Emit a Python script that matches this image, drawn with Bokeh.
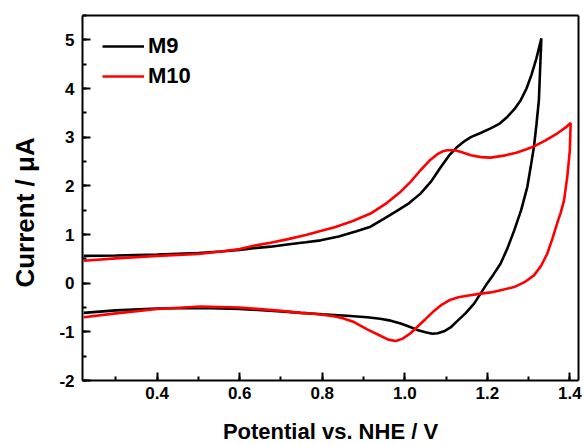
from bokeh.plotting import figure
from bokeh.models import (Range1d, SingleIntervalTicker, FixedTicker, PrintfTickFormatter,
                          Legend, LegendItem, LinearAxis)
from bokeh.embed import file_html
from bokeh.resources import INLINE

FONT = "Liberation Sans"

# ---- data (potential / V vs NHE, current / uA) ----
m9_potential = [0.222, 0.30, 0.40, 0.50, 0.554, 0.60, 0.634, 0.675, 0.72, 0.76, 0.796,
                0.84, 0.881, 0.917, 0.949, 0.98, 1.01, 1.038, 1.063, 1.087, 1.107,
                1.127, 1.145, 1.16, 1.185, 1.208, 1.23, 1.249, 1.266, 1.281, 1.295,
                1.307, 1.319, 1.331,
                1.328, 1.325, 1.319, 1.313, 1.305, 1.297, 1.282, 1.265, 1.249, 1.232,
                1.215, 1.200, 1.184, 1.168, 1.147, 1.127, 1.111, 1.095, 1.080, 1.067,
                1.050, 1.030, 1.010, 0.990, 0.966, 0.940, 0.909, 0.860, 0.800, 0.748,
                0.700, 0.600, 0.505, 0.400, 0.300, 0.222]
m9_current = [0.56, 0.57, 0.59, 0.62, 0.65, 0.68, 0.72, 0.75, 0.80, 0.84, 0.88,
              0.96, 1.06, 1.16, 1.32, 1.48, 1.64, 1.84, 2.08, 2.38, 2.62,
              2.80, 2.92, 3.00, 3.09, 3.18, 3.28, 3.42, 3.58, 3.76, 4.00,
              4.28, 4.62, 5.03,
              4.40, 3.76, 3.25, 2.80, 2.38, 1.98, 1.50, 1.08, 0.72, 0.40,
              0.18, 0.00, -0.21, -0.42, -0.62, -0.78, -0.91, -0.99, -1.03, -1.04,
              -1.01, -0.96, -0.89, -0.83, -0.77, -0.73, -0.70, -0.67, -0.64, -0.61,
              -0.58, -0.53, -0.51, -0.52, -0.56, -0.61]

m10_potential = [0.222, 0.30, 0.40, 0.50, 0.554, 0.60, 0.634, 0.675, 0.72, 0.76, 0.796,
                 0.83, 0.869, 0.894, 0.917, 0.957, 0.99, 1.014, 1.038, 1.06, 1.079,
                 1.092, 1.103, 1.12, 1.135, 1.16, 1.185, 1.208, 1.24, 1.27, 1.295,
                 1.313, 1.34, 1.37, 1.39, 1.402,
                 1.401, 1.400, 1.394, 1.386, 1.378, 1.370, 1.358, 1.345, 1.330, 1.313,
                 1.290, 1.265, 1.235, 1.208, 1.180, 1.151, 1.130, 1.111, 1.090, 1.071,
                 1.050, 1.030, 1.014, 0.995, 0.978, 0.960, 0.941, 0.909, 0.877, 0.850,
                 0.828, 0.780, 0.748, 0.700, 0.600, 0.505, 0.400, 0.300, 0.222]
m10_current = [0.46, 0.51, 0.56, 0.60, 0.65, 0.70, 0.77, 0.83, 0.91, 0.99, 1.07,
               1.15, 1.26, 1.35, 1.43, 1.65, 1.88, 2.08, 2.32, 2.52, 2.65,
               2.71, 2.73, 2.73, 2.70, 2.63, 2.59, 2.58, 2.62, 2.68, 2.75,
               2.81, 2.93, 3.08, 3.20, 3.29,
               3.00, 2.73, 2.20, 1.70, 1.45, 1.25, 0.92, 0.60, 0.35, 0.16,
               0.02, -0.08, -0.14, -0.19, -0.22, -0.26, -0.29, -0.34, -0.44, -0.57,
               -0.74, -0.90, -1.03, -1.14, -1.19, -1.16, -1.08, -0.95, -0.80, -0.72,
               -0.68, -0.63, -0.61, -0.57, -0.50, -0.48, -0.53, -0.62, -0.70]

series_names = ["M9", "M10"]
series_colors = ["black", "red"]
x_title = "Potential vs. NHE / V"
y_title = "Current / \u03bcA"

# ---- layout ----
W, H = 584, 446
FL, FR, FT, FB = 82, 578, 15, 380
X0, X1 = 0.219, 1.421
Y0, Y1 = -2.0, 5.5

p = figure(width=W, height=H, output_backend="svg", toolbar_location=None,
           x_range=Range1d(X0, X1), y_range=Range1d(Y0, Y1),
           min_border_left=FL, min_border_right=W - FR,
           min_border_top=FT, min_border_bottom=H - FB)
p.background_fill_color = "white"
p.border_fill_color = "white"
p.grid.visible = False
p.outline_line_color = None

p.xaxis.ticker = SingleIntervalTicker(interval=0.2, num_minor_ticks=2)
p.xaxis.formatter = PrintfTickFormatter(format="%.1f")
p.yaxis.ticker = SingleIntervalTicker(interval=1, num_minor_ticks=2)
p.yaxis.formatter = PrintfTickFormatter(format="%d")
for ax in (p.xaxis[0], p.yaxis[0]):
    ax.axis_line_width = 2
    ax.axis_line_color = "black"
    ax.major_tick_line_width = 2
    ax.minor_tick_line_width = 2
    ax.major_tick_line_color = "black"
    ax.minor_tick_line_color = "black"
    ax.major_tick_in = 8
    ax.major_tick_out = 0
    ax.minor_tick_in = 4
    ax.minor_tick_out = 0
    ax.major_label_text_font = FONT
    ax.major_label_text_font_style = "bold"
    ax.major_label_text_font_size = "17px"
    ax.major_label_text_color = "black"
    ax.axis_label_text_font = FONT
    ax.axis_label_text_font_style = "bold"
    ax.axis_label_text_color = "black"
p.xaxis.major_label_standoff = 6
p.yaxis.major_label_standoff = 8

p.xaxis.axis_label = x_title
p.xaxis.axis_label_text_font_size = "22px"
p.xaxis.axis_label_standoff = 17

# trailing no-break spaces shift the rotated title down to match the reference
p.yaxis.axis_label = y_title + "\u00a0" * 4
p.yaxis.axis_label_text_font_size = "26px"
p.yaxis.axis_label_standoff = 16

# plain frame lines on top and right
for place in ("above", "right"):
    fa = LinearAxis(ticker=FixedTicker(ticks=[]), axis_line_width=2,
                    axis_line_color="black", major_tick_in=0, major_tick_out=0,
                    minor_tick_in=0, minor_tick_out=0, major_label_standoff=0)
    p.add_layout(fa, place)

r9 = p.line(m9_potential, m9_current, line_color=series_colors[0], line_width=2.6)
r10 = p.line(m10_potential, m10_current, line_color=series_colors[1], line_width=2.6)

legend = Legend(items=[LegendItem(label=series_names[0], renderers=[r9]),
                       LegendItem(label=series_names[1], renderers=[r10])],
                location=(20, 289), margin=0, padding=0, spacing=0,
                glyph_width=42, glyph_height=30, label_height=30, label_standoff=4,
                border_line_color=None, background_fill_alpha=0,
                label_text_font=FONT, label_text_font_style="bold",
                label_text_font_size="22px", label_text_color="black")
p.add_layout(legend)

open("out.html", "w").write(file_html(p, INLINE))
